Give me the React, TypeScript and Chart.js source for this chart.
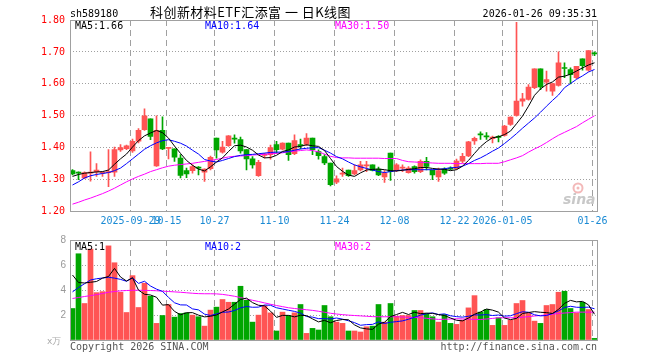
import React, { useEffect, useRef } from 'react';
import { Chart, registerables } from 'chart.js';

Chart.register(...registerables);

// ---------------- data ----------------
const code = 'sh589180';
const title = '科创新材料ETF汇添富 一 日K线图';
const stamp = '2026-01-26 09:35:31';

const dates = [
  '2025-09-15','2025-09-16','2025-09-17','2025-09-18','2025-09-19','2025-09-22','2025-09-23','2025-09-24','2025-09-25','2025-09-26','2025-09-29','2025-09-30',
  '2025-10-09','2025-10-10','2025-10-13','2025-10-14','2025-10-15','2025-10-16','2025-10-17','2025-10-20','2025-10-21','2025-10-22','2025-10-23','2025-10-24','2025-10-27','2025-10-28','2025-10-29','2025-10-30','2025-10-31',
  '2025-11-03','2025-11-04','2025-11-05','2025-11-06','2025-11-07','2025-11-10','2025-11-11','2025-11-12','2025-11-13','2025-11-14','2025-11-17','2025-11-18','2025-11-19','2025-11-20','2025-11-21','2025-11-24','2025-11-25','2025-11-26','2025-11-27','2025-11-28',
  '2025-12-01','2025-12-02','2025-12-03','2025-12-04','2025-12-05','2025-12-08','2025-12-09','2025-12-10','2025-12-11','2025-12-12','2025-12-15','2025-12-16','2025-12-17','2025-12-18','2025-12-19','2025-12-22','2025-12-23','2025-12-24','2025-12-25','2025-12-26','2025-12-29','2025-12-30','2025-12-31',
  '2026-01-05','2026-01-06','2026-01-07','2026-01-08','2026-01-09','2026-01-12','2026-01-13','2026-01-14','2026-01-15','2026-01-16','2026-01-19','2026-01-20','2026-01-21','2026-01-22','2026-01-23','2026-01-26',
];

const tickDates = ['2025-09-29','2025-10-15','2025-10-27','2025-11-10','2025-11-24','2025-12-08','2025-12-22','2026-01-05','2026-01-26'];
const tickLabels = ['2025-09-29','10-15','10-27','11-10','11-24','12-08','12-22','2026-01-05','01-26'];

const opens = [
  1.328,1.322,1.305,1.320,1.324,1.320,1.322,1.323,1.393,1.397,
  1.390,1.420,1.456,1.490,1.343,1.454,1.398,1.396,1.367,1.328,
  1.328,1.339,1.323,1.334,1.430,1.386,1.406,1.430,1.425,1.394,
  1.365,1.312,1.376,1.378,1.410,1.395,1.414,1.381,1.410,1.410,
  1.430,1.388,1.372,1.352,1.292,1.317,1.330,1.318,1.330,1.343,
  1.346,1.333,1.308,1.383,1.328,1.336,1.322,1.341,1.325,1.357,
  1.330,1.308,1.333,1.335,1.334,1.358,1.374,1.421,1.442,1.437,
  1.428,1.434,1.438,1.473,1.501,1.546,1.551,1.588,1.647,1.605,
  1.577,1.595,1.651,1.645,1.619,1.678,1.643,1.697,
];
const closes = [
  1.318,1.320,1.322,1.323,1.330,1.322,1.325,1.394,1.400,1.406,
  1.420,1.454,1.500,1.435,1.454,1.396,1.400,1.370,1.313,1.318,
  1.341,1.336,1.333,1.370,1.393,1.402,1.437,1.427,1.390,1.365,
  1.346,1.354,1.380,1.400,1.394,1.414,1.378,1.422,1.406,1.430,
  1.394,1.375,1.352,1.284,1.302,1.319,1.312,1.328,1.346,1.346,
  1.329,1.315,1.320,1.325,1.346,1.338,1.336,1.325,1.357,1.341,
  1.315,1.328,1.320,1.333,1.358,1.373,1.418,1.429,1.440,1.434,
  1.433,1.432,1.468,1.496,1.546,1.553,1.590,1.647,1.590,1.613,
  1.601,1.666,1.648,1.629,1.655,1.657,1.704,1.694,
];
const highs = [
  1.331,1.324,1.324,1.387,1.350,1.324,1.394,1.402,1.410,1.408,
  1.427,1.460,1.522,1.490,1.500,1.497,1.401,1.396,1.378,1.336,
  1.346,1.341,1.334,1.374,1.430,1.420,1.438,1.440,1.433,1.394,
  1.372,1.360,1.382,1.408,1.420,1.415,1.414,1.440,1.427,1.444,
  1.430,1.393,1.378,1.352,1.312,1.336,1.330,1.346,1.357,1.357,
  1.346,1.339,1.328,1.383,1.350,1.346,1.341,1.343,1.362,1.370,
  1.330,1.336,1.337,1.340,1.364,1.382,1.420,1.433,1.450,1.447,
  1.436,1.438,1.470,1.497,1.793,1.570,1.598,1.647,1.647,1.640,
  1.601,1.700,1.666,1.650,1.655,1.678,1.704,1.700,
];
const lows = [
  1.315,1.300,1.303,1.295,1.310,1.310,1.278,1.310,1.388,1.394,
  1.385,1.415,1.454,1.425,1.341,1.394,1.365,1.357,1.305,1.306,
  1.320,1.315,1.294,1.330,1.367,1.383,1.404,1.414,1.383,1.330,
  1.336,1.310,1.368,1.364,1.383,1.393,1.360,1.378,1.396,1.406,
  1.378,1.364,1.347,1.280,1.287,1.310,1.310,1.315,1.327,1.325,
  1.327,1.312,1.291,1.297,1.325,1.325,1.320,1.320,1.322,1.330,
  1.300,1.294,1.316,1.330,1.332,1.353,1.372,1.410,1.426,1.426,
  1.415,1.418,1.436,1.470,1.499,1.530,1.549,1.585,1.582,1.577,
  1.564,1.593,1.619,1.600,1.616,1.643,1.640,1.688,
];

const ma5 = [
  1.310,1.316,1.320,1.322,1.324,1.325,1.330,1.348,1.365,1.380,
  1.402,1.422,1.437,1.446,1.454,1.447,1.430,1.405,1.382,1.360,
  1.345,1.333,1.327,1.340,1.355,1.368,1.388,1.406,1.408,1.402,
  1.392,1.377,1.368,1.369,1.376,1.388,1.393,1.402,1.404,1.409,
  1.406,1.404,1.391,1.366,1.341,1.326,1.314,1.310,1.321,1.330,
  1.332,1.333,1.331,1.328,1.327,1.329,1.332,1.334,1.338,1.338,
  1.335,1.333,1.332,1.328,1.331,1.342,1.360,1.382,1.403,1.419,
  1.431,1.434,1.441,1.452,1.475,1.499,1.530,1.564,1.584,1.598,
  1.606,1.621,1.624,1.630,1.640,1.650,1.659,1.666,
];
const ma10 = [
  1.283,1.293,1.305,1.312,1.316,1.319,1.322,1.328,1.336,1.350,
  1.365,1.380,1.395,1.406,1.415,1.422,1.425,1.420,1.414,1.405,
  1.392,1.380,1.363,1.358,1.355,1.360,1.366,1.372,1.376,1.378,
  1.379,1.381,1.383,1.385,1.386,1.386,1.388,1.392,1.396,1.398,
  1.400,1.400,1.392,1.383,1.372,1.365,1.355,1.346,1.340,1.335,
  1.330,1.325,1.322,1.325,1.328,1.330,1.331,1.331,1.331,1.331,
  1.331,1.332,1.334,1.337,1.338,1.342,1.350,1.360,1.368,1.378,
  1.389,1.399,1.413,1.428,1.444,1.461,1.477,1.493,1.511,1.530,
  1.548,1.565,1.588,1.601,1.614,1.625,1.637,1.645,
];
const ma30 = [
  1.223,1.229,1.236,1.242,1.249,1.256,1.264,1.273,1.283,1.293,
  1.302,1.310,1.317,1.325,1.331,1.337,1.342,1.345,1.347,1.349,
  1.351,1.354,1.357,1.360,1.363,1.367,1.371,1.373,1.374,1.375,
  1.377,1.378,1.379,1.381,1.382,1.384,1.387,1.389,1.391,1.393,
  1.391,1.387,1.380,1.373,1.369,1.368,1.368,1.367,1.367,1.367,
  1.367,1.367,1.366,1.366,1.366,1.360,1.356,1.355,1.354,1.353,
  1.352,1.351,1.351,1.351,1.350,1.350,1.350,1.350,1.350,1.351,
  1.351,1.351,1.356,1.362,1.368,1.375,1.386,1.396,1.405,1.416,
  1.428,1.439,1.448,1.457,1.466,1.478,1.489,1.500,
];

const volumes = [
  2.52,6.90,2.92,7.27,3.79,3.87,7.53,6.18,3.82,2.20,
  5.15,2.60,4.54,3.50,1.33,1.96,2.84,1.83,2.12,2.17,
  1.99,1.86,1.11,2.39,2.63,3.24,3.02,3.02,4.30,3.18,
  1.43,1.99,2.76,2.17,0.72,2.23,1.96,2.17,2.84,0.53,
  0.93,0.80,2.76,1.86,1.43,1.33,0.72,0.72,0.64,1.06,
  1.11,2.84,1.43,2.92,1.91,1.96,1.96,2.36,2.36,2.12,
  1.86,1.43,2.04,1.33,1.25,1.59,2.57,3.55,2.23,2.44,
  1.17,1.78,1.17,1.59,2.92,3.16,2.17,1.51,1.33,2.76,
  2.84,3.82,3.90,2.52,2.17,3.02,2.44,0.13,
];
const volMa5 = [
  5.20,4.60,4.56,4.62,4.68,4.95,5.08,5.73,5.04,4.72,
  4.98,3.99,3.66,3.60,3.42,2.79,2.83,2.29,2.02,2.18,
  2.19,1.99,1.85,1.90,2.00,2.25,2.48,2.86,3.24,3.35,
  2.99,2.78,2.73,2.31,1.81,1.97,1.97,1.85,1.98,1.95,
  1.69,1.45,1.57,1.38,1.56,1.64,1.62,1.21,0.97,0.89,
  0.85,1.27,1.42,1.87,2.04,2.21,2.04,2.22,2.11,2.15,
  2.13,2.03,1.96,1.76,1.58,1.53,1.76,2.06,2.24,2.48,
  2.39,2.23,1.76,1.63,1.73,2.12,2.20,2.27,2.22,2.19,
  2.12,2.45,2.93,3.17,3.05,3.09,2.81,2.06,
];
const volMa10 = [
  3.85,4.20,4.50,4.80,4.90,4.96,5.02,4.95,4.85,4.70,
  4.97,4.53,4.70,4.32,4.07,3.89,3.41,2.98,2.81,2.80,
  2.49,2.41,2.07,1.96,2.09,2.22,2.24,2.36,2.57,2.68,
  2.62,2.63,2.80,2.78,2.58,2.48,2.38,2.29,2.15,1.88,
  1.83,1.71,1.71,1.68,1.76,1.67,1.54,1.39,1.18,1.23,
  1.25,1.45,1.32,1.42,1.47,1.53,1.66,1.82,1.99,2.10,
  2.17,2.04,2.09,1.94,1.87,1.83,1.90,2.01,2.00,2.03,
  1.96,2.00,1.91,1.94,2.11,2.26,2.22,2.02,1.93,1.96,
  2.12,2.33,2.60,2.70,2.62,2.61,2.63,2.50,
];
const volMa30 = [
  3.32,3.40,3.48,3.55,3.63,3.72,3.82,3.88,3.93,3.96,
  3.98,3.98,3.97,3.96,3.94,3.91,3.88,3.85,3.82,3.78,
  3.74,3.71,3.70,3.70,3.69,3.65,3.58,3.50,3.40,3.28,
  3.18,3.08,2.97,2.86,2.76,2.67,2.58,2.52,2.47,2.42,
  2.37,2.30,2.22,2.14,2.08,2.03,1.99,1.96,1.93,1.90,
  1.87,1.86,1.86,1.86,1.86,1.84,1.82,1.80,1.78,1.74,
  1.69,1.65,1.66,1.68,1.70,1.69,1.67,1.65,1.64,1.68,
  1.73,1.78,1.78,1.78,1.78,1.82,1.87,1.92,1.96,2.01,
  2.06,2.12,2.16,2.19,2.23,2.23,2.23,2.23,
];

const priceLegend = ['MA5:1.66', 'MA10:1.64', 'MA30:1.50'];
const volLegend = ['MA5:1', 'MA10:2', 'MA30:2'];
const priceTicks = { min: 1.2, max: 1.8, step: 0.1 };
const volTicks = { min: 0, max: 8, step: 2 };

// ---------------- styles ----------------
const RED = '#ff5454';
const GREEN = '#00a600';
const MA_COLORS = ['#000000', '#0000ff', '#ff00ff'];
const MONO = '"DejaVu Sans Mono", "Liberation Mono", monospace';
const GRID = '#a0a0a0';
const LEGEND_X = [75, 205, 335];

const X_MIN = -2.5 / 6;
const X_MAX = dates.length - 1 + 2.5 / 6;

const candleColors = closes.map((c, i) => (c >= opens[i] ? RED : GREEN));
const tickIndex = tickDates.map((d) => dates.indexOf(d));

function xScale(showLabels: boolean, height: number): any {
  return {
    type: 'linear',
    min: X_MIN,
    max: X_MAX,
    offset: false,
    grid: { offset: false, color: GRID, lineWidth: 1, drawTicks: false },
    border: { display: false, dash: [6, 4] },
    ticks: {
      display: showLabels,
      autoSkip: false,
      maxRotation: 0,
      minRotation: 0,
      padding: 4,
      color: '#1a8ad4',
      font: { family: MONO, size: 10 },
      callback: (_v: any, i: number) => tickLabels[i],
    },
    afterBuildTicks: (s: any) => {
      s.ticks = tickIndex.map((i) => ({ value: i - 1 / 3 }));
    },
    afterFit: (s: any) => {
      s.height = height;
    },
  };
}

function frame(chart: any) {
  const { ctx, chartArea: a } = chart;
  const l = Math.floor(a.left) + 0.5;
  const r = Math.floor(a.right) + 0.5;
  const t = Math.floor(a.top) + 0.5;
  const b = Math.floor(a.bottom) + 0.5;
  ctx.save();
  ctx.strokeStyle = GRID;
  ctx.lineWidth = 1;
  ctx.strokeRect(l, t, r - l, b - t);
  ctx.restore();
}

function legends(ctx: any, texts: string[], y: number) {
  ctx.font = `10px ${MONO}`;
  ctx.textAlign = 'left';
  ctx.textBaseline = 'alphabetic';
  texts.forEach((t, k) => {
    ctx.fillStyle = MA_COLORS[k];
    ctx.fillText(t, LEGEND_X[k], y);
  });
}

const mainDecor = {
  id: 'mainDecor',
  beforeDatasetsDraw(chart: any) {
    const ctx = chart.ctx;
    ctx.save();
    // sina watermark
    ctx.strokeStyle = '#f3b9b9';
    ctx.fillStyle = '#f3b9b9';
    ctx.lineWidth = 2;
    ctx.beginPath();
    ctx.arc(578, 188, 4.5, 0, Math.PI * 2);
    ctx.stroke();
    ctx.beginPath();
    ctx.arc(578, 188, 1.5, 0, Math.PI * 2);
    ctx.fill();
    ctx.font = 'italic bold 14px "DejaVu Sans"';
    ctx.fillStyle = '#c8c8c8';
    ctx.textBaseline = 'alphabetic';
    ctx.fillText('sina', 563, 204);
    ctx.restore();
  },
  afterDraw(chart: any) {
    const ctx = chart.ctx;
    frame(chart);
    ctx.save();
    ctx.textBaseline = 'alphabetic';
    ctx.fillStyle = '#000';
    ctx.font = `10px ${MONO}`;
    ctx.textAlign = 'left';
    ctx.fillText(code, 70, 17);
    ctx.font = '13px "Noto Sans CJK SC"';
    (ctx as any).letterSpacing = '0.45px';
    ctx.fillText(title, 150, 17);
    (ctx as any).letterSpacing = '0px';
    ctx.font = `10px ${MONO}`;
    ctx.textAlign = 'right';
    ctx.fillText(stamp, 597, 17);
    legends(ctx, priceLegend, 29);
    ctx.restore();
  },
};

const volDecor = {
  id: 'volDecor',
  afterDraw(chart: any) {
    const ctx = chart.ctx;
    frame(chart);
    ctx.save();
    legends(ctx, volLegend, 20);
    ctx.textBaseline = 'alphabetic';
    ctx.textAlign = 'left';
    ctx.font = '9px "DejaVu Sans"';
    ctx.fillStyle = '#aaaaaa';
    ctx.fillText('x万', 47, 114);
    ctx.font = `10px ${MONO}`;
    ctx.fillStyle = '#555555';
    ctx.fillText('Copyright 2026 SINA.COM', 70, 120);
    ctx.textAlign = 'right';
    ctx.fillText('http://finance.sina.com.cn', 597, 120);
    ctx.restore();
  },
};

function lineSet(label: string, values: number[], color: string): any {
  return {
    type: 'line',
    label,
    data: values.map((v, i) => ({ x: i, y: v })),
    borderColor: color,
    borderWidth: 1,
    pointRadius: 0,
    fill: false,
    tension: 0,
    order: 0,
  };
}

function makeMain(canvas: HTMLCanvasElement) {
  return new Chart(canvas, {
    type: 'bar',
    data: {
      datasets: [
        lineSet('MA5', ma5, MA_COLORS[0]),
        lineSet('MA10', ma10, MA_COLORS[1]),
        lineSet('MA30', ma30, MA_COLORS[2]),
        {
          type: 'bar',
          label: 'body',
          data: opens.map((o, i) => ({ x: i, y: [o, closes[i]] })),
          backgroundColor: candleColors,
          barThickness: 5,
          grouped: false,
          minBarLength: 1,
          borderWidth: 0,
          order: 1,
        } as any,
        {
          type: 'bar',
          label: 'wick',
          data: lows.map((l, i) => ({ x: i, y: [l, highs[i]] })),
          backgroundColor: candleColors,
          barThickness: 1,
          grouped: false,
          borderWidth: 0,
          order: 2,
        } as any,
      ],
    },
    options: {
      responsive: false,
      animation: false,
      events: [],
      layout: { padding: { left: 0, right: 63, top: 20, bottom: 0 } },
      plugins: { legend: { display: false }, tooltip: { enabled: false } },
      scales: {
        x: xScale(true, 18.5),
        y: {
          type: 'linear',
          min: priceTicks.min,
          max: priceTicks.max,
          grid: { color: GRID, lineWidth: 1, drawTicks: false },
          border: { display: false, dash: [1, 2] },
          ticks: {
            stepSize: priceTicks.step,
            color: '#ff0000',
            padding: 5,
            font: { family: MONO, size: 10 },
            callback: (v: any) => Number(v).toFixed(2),
          },
          afterFit: (s: any) => {
            s.width = 70;
          },
        },
      },
    } as any,
    plugins: [mainDecor],
  });
}

function makeVol(canvas: HTMLCanvasElement) {
  return new Chart(canvas, {
    type: 'bar',
    data: {
      datasets: [
        lineSet('MA5', volMa5, MA_COLORS[0]),
        lineSet('MA10', volMa10, MA_COLORS[1]),
        lineSet('MA30', volMa30, MA_COLORS[2]),
        {
          type: 'bar',
          label: 'volume',
          data: volumes.map((v, i) => ({ x: i, y: v })),
          backgroundColor: candleColors,
          barThickness: 5,
          grouped: false,
          borderWidth: 0,
          order: 1,
        } as any,
      ],
    },
    options: {
      responsive: false,
      animation: false,
      events: [],
      layout: { padding: { left: 0, right: 63, top: 10, bottom: 0 } },
      plugins: { legend: { display: false }, tooltip: { enabled: false } },
      scales: {
        x: xScale(false, 20),
        y: {
          type: 'linear',
          min: volTicks.min,
          max: volTicks.max,
          grid: { color: GRID, lineWidth: 1, drawTicks: false },
          border: { display: false, dash: [1, 2] },
          ticks: {
            stepSize: volTicks.step,
            color: '#999999',
            padding: 4,
            font: { family: '"Liberation Sans", sans-serif', size: 10 },
            callback: (v: any) => (Number(v) === 0 ? '' : String(v)),
          },
          afterFit: (s: any) => {
            s.width = 70;
          },
        },
      },
    } as any,
    plugins: [volDecor],
  });
}

export default function App() {
  const mainRef = useRef<HTMLCanvasElement>(null);
  const volRef = useRef<HTMLCanvasElement>(null);

  useEffect(() => {
    const charts = [makeMain(mainRef.current!), makeVol(volRef.current!)];
    return () => charts.forEach((c) => c.destroy());
  }, []);

  return (
    <div style={{ position: 'fixed', left: 0, top: 0, width: 660, height: 360, background: '#ffffff', overflow: 'hidden' }}>
      <canvas ref={mainRef} width={660} height={230} style={{ position: 'absolute', left: 0, top: 0, display: 'block' }} />
      <canvas ref={volRef} width={660} height={130} style={{ position: 'absolute', left: 0, top: 230, display: 'block' }} />
    </div>
  );
}
